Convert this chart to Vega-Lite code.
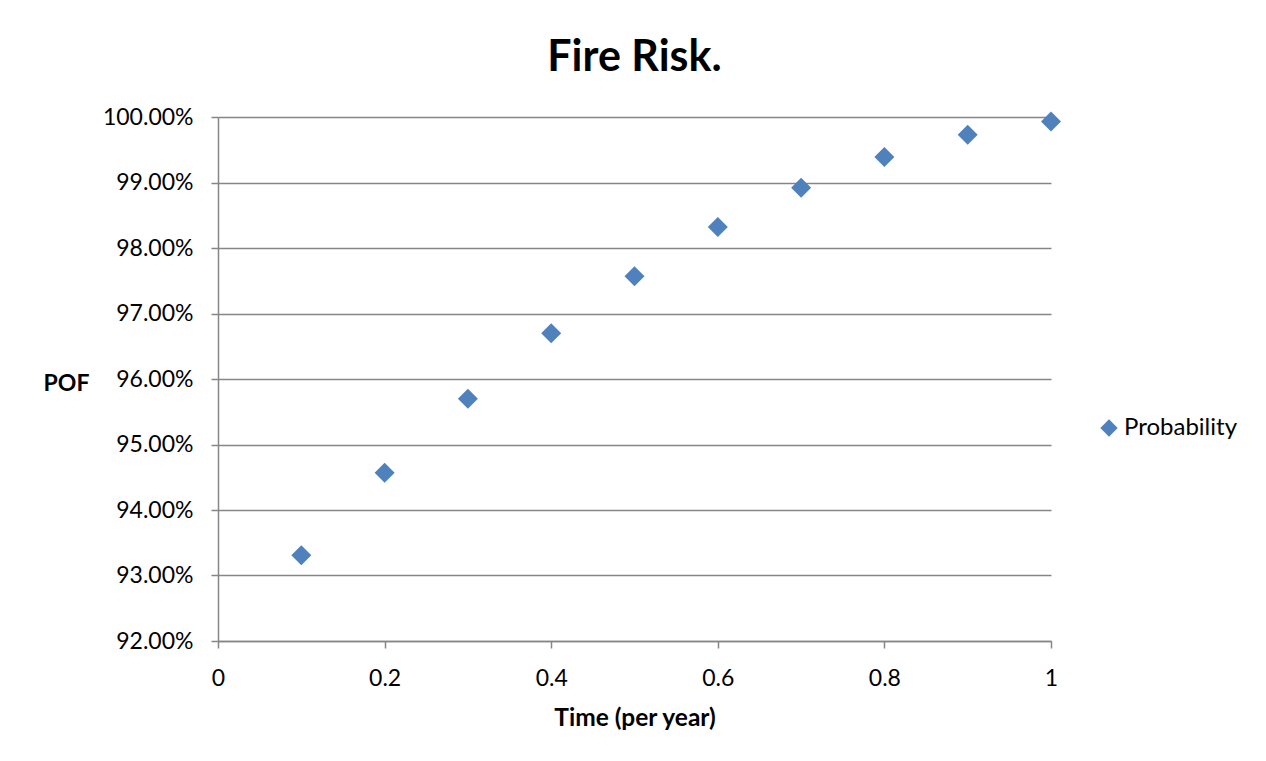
{
  "$schema": "https://vega.github.io/schema/vega-lite/v6.json",
  "width": 833,
  "height": 524,
  "autosize": {"type": "none"},
  "padding": {"left": 218, "top": 117, "right": 215, "bottom": 120},
  "background": "white",
  "title": {
    "text": "Fire Risk.",
    "font": "Lato",
    "fontSize": 43,
    "fontWeight": "bold",
    "color": "#000000",
    "anchor": "middle",
    "frame": "group",
    "baseline": "alphabetic",
    "offset": 46,
    "dy": 54
  },
  "data": {
    "values": [
      {"t": 0.1, "pof": 0.9331, "series": "Probability"},
      {"t": 0.2, "pof": 0.9457, "series": "Probability"},
      {"t": 0.3, "pof": 0.9570, "series": "Probability"},
      {"t": 0.4, "pof": 0.9670, "series": "Probability"},
      {"t": 0.5, "pof": 0.9757, "series": "Probability"},
      {"t": 0.6, "pof": 0.9832, "series": "Probability"},
      {"t": 0.7, "pof": 0.9892, "series": "Probability"},
      {"t": 0.8, "pof": 0.9939, "series": "Probability"},
      {"t": 0.9, "pof": 0.9973, "series": "Probability"},
      {"t": 1.0, "pof": 0.9993, "series": "Probability"}
    ]
  },
  "mark": {"type": "point", "shape": "diamond", "filled": true, "size": 400, "opacity": 1},
  "encoding": {
    "x": {
      "field": "t",
      "type": "quantitative",
      "scale": {"domain": [0, 1], "nice": false, "zero": false},
      "axis": {
        "title": "Time (per year)",
        "values": [0, 0.2, 0.4, 0.6, 0.8, 1],
        "format": "~g",
        "grid": false,
        "labelFlush": false,
        "titleY": 77,
        "titleBaseline": "middle",
        "titleFontSize": 24.5
      }
    },
    "y": {
      "field": "pof",
      "type": "quantitative",
      "scale": {"domain": [0.92, 1.0], "nice": false, "zero": false},
      "axis": {
        "title": "POF",
        "values": [0.92, 0.93, 0.94, 0.95, 0.96, 0.97, 0.98, 0.99, 1.0],
        "format": ".2%",
        "grid": true,
        "labelFlush": false,
        "titleAngle": 0,
        "titleX": -152,
        "titleY": 266,
        "titleAlign": "center",
        "titleBaseline": "middle"
      }
    },
    "color": {
      "field": "series",
      "type": "nominal",
      "scale": {"range": ["#4F81BD"]},
      "legend": {
        "title": null,
        "orient": "none",
        "legendX": 879,
        "legendY": 299,
        "symbolType": "diamond",
        "symbolSize": 300,
        "labelFont": "Lato",
        "labelFontSize": 24,
        "labelColor": "#000000",
        "labelOffset": 3,
        "padding": 0
      }
    }
  },
  "config": {
    "view": {"stroke": null},
    "axis": {
      "labelFont": "Lato",
      "labelFontSize": 23,
      "labelColor": "#000000",
      "titleFont": "Lato",
      "titleFontSize": 23,
      "titleFontWeight": "bold",
      "titleColor": "#000000",
      "domainColor": "#868686",
      "domainWidth": 1.5,
      "tickColor": "#868686",
      "tickWidth": 1.5,
      "tickSize": 7,
      "gridColor": "#868686",
      "gridWidth": 1.5,
      "gridOpacity": 1
    },
    "axisY": {"labelPadding": 18},
    "axisX": {"labelPadding": 19}
  }
}
